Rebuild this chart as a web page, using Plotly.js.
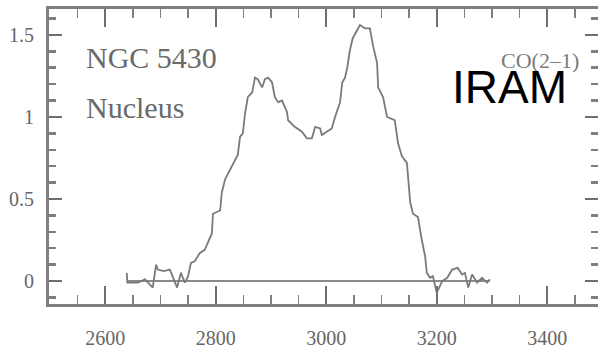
<!DOCTYPE html>
<html>
<head>
<meta charset="utf-8">
<script src="https://cdn.plot.ly/plotly-3.0.1.min.js"></script>
<style>html,body{margin:0;padding:0;background:#fff;}#chart{width:598px;height:352px;}</style>
</head>
<body>
<div id="chart"></div>
<script>
// Spectrum (velocity km/s, flux)
const velocity = [2639,2640,2645,2659,2672,2686,2692,2695,2706,2717,2730,2737,2744,2750,2755,2762,2771,2780,2793,2795,2808,2811,2817,2826,2831,2840,2844,2849,2853,2858,2866,2871,2876,2884,2889,2895,2902,2907,2913,2920,2929,2931,2943,2952,2956,2965,2974,2980,2989,2992,3001,3010,3016,3025,3029,3034,3038,3043,3048,3056,3061,3070,3079,3085,3092,3094,3103,3110,3124,3130,3137,3146,3152,3157,3166,3173,3179,3182,3188,3193,3200,3210,3219,3228,3238,3246,3251,3257,3264,3273,3282,3291,3296];
const flux = [0.05,-0.01,-0.01,-0.01,0.01,-0.04,0.10,0.07,0.06,0.07,-0.04,0.05,-0.01,0.03,0.11,0.12,0.17,0.19,0.29,0.41,0.43,0.54,0.62,0.68,0.71,0.77,0.88,0.90,1.02,1.12,1.15,1.24,1.23,1.18,1.23,1.24,1.21,1.12,1.09,1.10,1.03,0.98,0.94,0.92,0.91,0.87,0.87,0.94,0.93,0.89,0.91,0.93,1.00,1.09,1.21,1.24,1.30,1.41,1.48,1.53,1.56,1.54,1.54,1.43,1.33,1.18,1.12,1.00,0.98,0.84,0.76,0.72,0.48,0.41,0.39,0.25,0.15,0.05,0.02,0.03,-0.07,0.00,0.02,0.07,0.08,0.04,0.05,-0.04,0.04,-0.01,0.02,-0.01,0.01];
// Baseline
const baseX = [2640, 3296];
const baseY = [0, 0];
// Tick labels
const xTicks = [2600, 2800, 3000, 3200, 3400];
const yTicks = [0, 0.5, 1, 1.5];
const yTickText = ['0', '0.5', '1', '1.5'];

const gray = '#7f7f7f';
const traces = [
  {x: baseX, y: baseY, type: 'scatter', mode: 'lines', line: {color: '#8a8a8a', width: 2}, hoverinfo: 'skip'},
  {x: velocity, y: flux, type: 'scatter', mode: 'lines', line: {color: '#7a7a7a', width: 1.8}, hoverinfo: 'skip'}
];

const W = 598, H = 352, L = 49, R = 0, T = 9, B = 48;
const pw = W - L - R, ph = H - T - B;
const px = v => (v - L) / pw;
const py = v => (H - B - v) / ph;

const layout = {
  width: W, height: H,
  margin: {l: L, r: R, t: T, b: B, pad: 0},
  paper_bgcolor: '#fff', plot_bgcolor: '#fff',
  showlegend: false,
  font: {family: 'Liberation Serif, serif', color: '#6f6f6f', size: 19},
  xaxis: {
    range: [2498.2, 3491.9], tickvals: xTicks, ticktext: xTicks.map(String),
    showgrid: false, zeroline: false, showline: true, linecolor: gray, linewidth: 3,
    mirror: 'ticks', ticks: 'inside', ticklen: 18, tickwidth: 2, tickcolor: '#6f6f6f',
    minor: {dtick: 50, tick0: 2500, ticks: 'inside', ticklen: 9, tickwidth: 1.5, tickcolor: '#7f7f7f', showgrid: false},
    tickfont: {size: 20, family: 'Liberation Serif, serif', color: '#666'},
    ticklabelstandoff: 14
  },
  yaxis: {
    range: [-0.140, 1.658], tickvals: yTicks, ticktext: yTickText,
    showgrid: false, zeroline: false, showline: true, linecolor: gray, linewidth: 3,
    mirror: 'ticks', ticks: 'inside', ticklen: 13, tickwidth: 2.5, tickcolor: '#6f6f6f',
    minor: {dtick: 0.1, tick0: 0, ticks: 'inside', ticklen: 7, tickwidth: 2.5, tickcolor: '#7f7f7f', showgrid: false},
    tickfont: {size: 20, family: 'Liberation Serif, serif', color: '#666'},
    ticklabelstandoff: 8
  },
  annotations: [
    {xref: 'paper', yref: 'paper', x: px(84), y: py(57), xanchor: 'left', yanchor: 'middle', showarrow: false,
     text: 'NGC 5430', font: {family: 'Liberation Serif, serif', size: 30, color: '#6a6a6a'}},
    {xref: 'paper', yref: 'paper', x: px(84), y: py(107), xanchor: 'left', yanchor: 'middle', showarrow: false,
     text: 'Nucleus', font: {family: 'Liberation Serif, serif', size: 30, color: '#6a6a6a'}},
    {xref: 'paper', yref: 'paper', x: px(499), y: py(60), xanchor: 'left', yanchor: 'middle', showarrow: false,
     text: 'CO(2–1)', font: {family: 'Liberation Serif, serif', size: 22, color: '#7a7a7a'}},
    {xref: 'paper', yref: 'paper', x: px(450), y: py(87), xanchor: 'left', yanchor: 'middle', showarrow: false,
     text: 'IRAM', font: {family: 'Liberation Sans, Arial, sans-serif', size: 46, color: '#000'}}
  ]
};

Plotly.newPlot('chart', traces, layout, {staticPlot: true, displayModeBar: false});
</script>
</body>
</html>
